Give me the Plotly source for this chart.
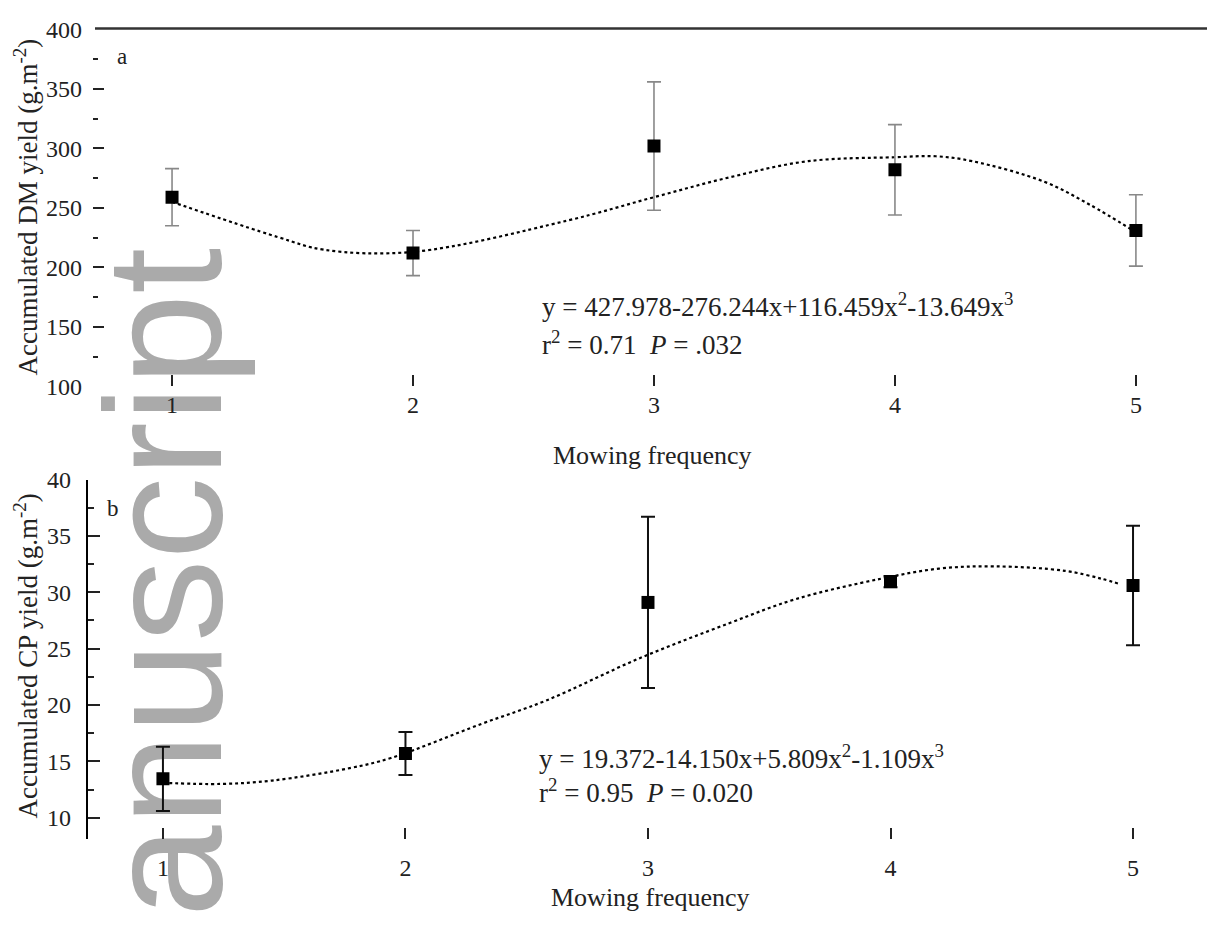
import plotly.graph_objects as go

W, H = 1207, 928

# ---------------- data ----------------
freq = [1, 2, 3, 4, 5]
freq_labels = ["1", "2", "3", "4", "5"]

dm_mean = [259, 212, 302, 282, 231]
dm_err = [24, 19, 54, 38, 30]
dm_fit_x = [1.0, 1.44, 1.63, 2.0, 2.64, 3.0, 3.32, 3.64, 4.0, 4.17, 4.32, 4.62, 4.81, 4.98]
dm_fit_y = [255, 225.4, 214.8, 213, 239.3, 259, 276, 289.3, 292.6, 293.4, 289.3, 272, 252.5, 232]

cp_mean = [13.45, 15.7, 29.1, 30.95, 30.6]
cp_err = [2.85, 1.9, 7.6, 0.5, 5.3]
cp_fit_x = [1.0, 1.24, 1.45, 1.77, 1.94, 2.31, 2.58, 2.96, 3.34, 3.61, 3.96, 4.2, 4.43, 4.72, 4.87, 4.95]
cp_fit_y = [13.1, 13.0, 13.3, 14.4, 15.3, 18.3, 20.4, 24.1, 27.3, 29.4, 31.2, 32.1, 32.3, 31.9, 31.2, 30.7]

dm_ticks = [100, 150, 200, 250, 300, 350, 400]
cp_ticks = [10, 15, 20, 25, 30, 35, 40]

eq_a = ["y = 427.978-276.244x+116.459x<sup>2</sup>-13.649x<sup>3</sup>",
        "r<sup>2</sup> = 0.71  <i>P</i> = .032"]
eq_b = ["y = 19.372-14.150x+5.809x<sup>2</sup>-1.109x<sup>3</sup>",
        "r<sup>2</sup> = 0.95  <i>P</i> = 0.020"]


def px(x):
    return x / W


def py(y):
    return 1 - y / H


SERIF = "Liberation Serif"
fig = go.Figure()

# panel a
fig.add_trace(go.Scatter(x=dm_fit_x, y=dm_fit_y, mode="lines", line=dict(color="black", width=2.2, dash="dot", shape="spline"),
                         xaxis="x", yaxis="y", showlegend=False, hoverinfo="skip"))
fig.add_trace(go.Scatter(x=freq, y=dm_mean, mode="markers",
                         marker=dict(symbol="square", size=13, color="black"),
                         error_y=dict(type="data", array=dm_err, color="#888888", thickness=1.6, width=7),
                         xaxis="x", yaxis="y", showlegend=False))
# panel b
fig.add_trace(go.Scatter(x=cp_fit_x, y=cp_fit_y, mode="lines", line=dict(color="black", width=2.2, dash="dot", shape="spline"),
                         xaxis="x2", yaxis="y2", showlegend=False, hoverinfo="skip"))
fig.add_trace(go.Scatter(x=freq, y=cp_mean, mode="markers",
                         marker=dict(symbol="square", size=13, color="black"),
                         error_y=dict(type="data", array=cp_err, color="#111111", thickness=2, width=7),
                         xaxis="x2", yaxis="y2", showlegend=False))

tickfont = dict(family=SERIF, size=24, color="#222")
common_x = dict(tickvals=freq, ticktext=freq_labels, ticks="inside", ticklen=11, tickwidth=1.5, tickcolor="#222",
                showgrid=False, zeroline=False, showline=False, tickfont=tickfont)

fig.update_layout(
    width=W, height=H, margin=dict(l=0, r=0, t=0, b=0),
    paper_bgcolor="white", plot_bgcolor="rgba(0,0,0,0)",
    xaxis=dict(domain=[px(93), 1], range=[0.672, 5.295], anchor="y", ticklabelstandoff=2, **common_x),
    yaxis=dict(domain=[py(384), py(17)], range=[100, 400], tickvals=dm_ticks, ticks="inside", ticklen=11,
               tickwidth=1.5, tickcolor="#222", showgrid=False, zeroline=False, showline=False,
               tickfont=tickfont, ticklabelstandoff=10, anchor="x",
               minor=dict(dtick=25, tick0=0, ticks="inside", ticklen=5, tickcolor="#222", showgrid=False)),
    xaxis2=dict(domain=[px(88), 1], range=[0.691, 5.305], anchor="y2", ticklabelstandoff=12, **common_x),
    yaxis2=dict(domain=[py(850), py(480)], range=[8.1, 40], tickvals=cp_ticks, ticks="inside", ticklen=12,
                tickwidth=1.5, tickcolor="#222", showgrid=False, zeroline=False, showline=True, linewidth=2.2,
                linecolor="black", tickfont=tickfont, ticklabelstandoff=10, anchor="x2",
                minor=dict(dtick=2.5, tick0=0, ticks="inside", ticklen=6, tickcolor="#222", showgrid=False)),
)

# top border line of panel a
fig.add_shape(type="line", xref="paper", yref="paper", x0=px(95), x1=1, y0=py(16), y1=py(16),
              line=dict(color="#333", width=2.5))

# watermark below traces
fig.add_shape(type="rect", xref="paper", yref="paper", x0=px(142), x1=px(154), y0=py(592), y1=py(580),
              line=dict(width=0), fillcolor="rgba(0,0,0,0)", layer="below",
              label=dict(text="anuscript", textangle=-90, textposition="middle center",
                         font=dict(family="Liberation Sans", size=165, color="#aaaaaa")))

ann = []
ann.append(dict(text="a", x=px(122), y=py(45), font=dict(family=SERIF, size=23, color="#222")))
ann.append(dict(text="b", x=px(113), y=py(510), font=dict(family=SERIF, size=23, color="#222")))
ann.append(dict(text="Accumulated DM yield (g.m<sup>-2</sup>)", x=px(26), y=py(200), textangle=-90,
                font=dict(family=SERIF, size=27, color="#222")))
ann.append(dict(text="Accumulated CP yield (g.m<sup>-2</sup>)", x=px(26), y=py(662), textangle=-90,
                font=dict(family=SERIF, size=27, color="#222")))
ann.append(dict(text="Mowing frequency", x=px(652), y=py(455), font=dict(family=SERIF, size=26, color="#222")))
ann.append(dict(text="Mowing frequency", x=px(650), y=py(910), font=dict(family=SERIF, size=26, color="#222")))
ann.append(dict(text=eq_a[0], x=px(540), y=py(300), xanchor="left", font=dict(family=SERIF, size=27, color="#222")))
ann.append(dict(text=eq_a[1], x=px(540), y=py(340), xanchor="left", font=dict(family=SERIF, size=27, color="#222")))
ann.append(dict(text=eq_b[0], x=px(537), y=py(765), xanchor="left", font=dict(family=SERIF, size=27, color="#222")))
ann.append(dict(text=eq_b[1], x=px(537), y=py(800), xanchor="left", font=dict(family=SERIF, size=27, color="#222")))
for a in ann:
    a.setdefault("xanchor", "center")
    a.update(xref="paper", yref="paper", showarrow=False, yanchor="middle")
fig.update_layout(annotations=ann)

fig.write_html("out.html")
